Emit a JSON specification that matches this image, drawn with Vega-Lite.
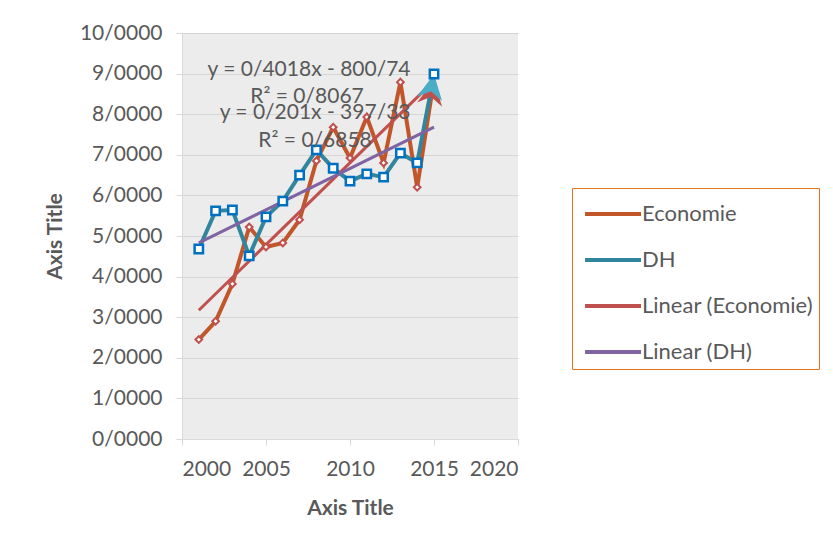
{
  "$schema": "https://vega.github.io/schema/vega-lite/v6.json",
  "width": 336,
  "height": 406,
  "autosize": {"type": "none"},
  "padding": {"left": 182, "top": 33, "right": 315, "bottom": 115},
  "background": "white",
  "config": {
    "font": "Lato",
    "view": {"fill": "#ececec", "stroke": null},
    "axis": {
      "labelFont": "Lato",
      "labelFontSize": 21,
      "labelColor": "#595959",
      "titleFont": "Lato",
      "titleFontSize": 21,
      "titleFontWeight": "bold",
      "titleColor": "#595959",
      "domainColor": "#d9d9d9",
      "tickColor": "#d9d9d9",
      "gridColor": "#d6d6d6",
      "tickSize": 6
    }
  },
  "datasets": {
    "obs": [
      {"year": 2001, "series": "Economie", "value": 2.45},
      {"year": 2002, "series": "Economie", "value": 2.9},
      {"year": 2003, "series": "Economie", "value": 3.82},
      {"year": 2004, "series": "Economie", "value": 5.22},
      {"year": 2005, "series": "Economie", "value": 4.73},
      {"year": 2006, "series": "Economie", "value": 4.83},
      {"year": 2007, "series": "Economie", "value": 5.4},
      {"year": 2008, "series": "Economie", "value": 6.85},
      {"year": 2009, "series": "Economie", "value": 7.68},
      {"year": 2010, "series": "Economie", "value": 6.92},
      {"year": 2011, "series": "Economie", "value": 7.93},
      {"year": 2012, "series": "Economie", "value": 6.8},
      {"year": 2013, "series": "Economie", "value": 8.79},
      {"year": 2014, "series": "Economie", "value": 6.2},
      {"year": 2015, "series": "Economie", "value": 8.85},
      {"year": 2001, "series": "DH", "value": 4.68},
      {"year": 2002, "series": "DH", "value": 5.62},
      {"year": 2003, "series": "DH", "value": 5.64},
      {"year": 2004, "series": "DH", "value": 4.51},
      {"year": 2005, "series": "DH", "value": 5.47},
      {"year": 2006, "series": "DH", "value": 5.86},
      {"year": 2007, "series": "DH", "value": 6.5},
      {"year": 2008, "series": "DH", "value": 7.12},
      {"year": 2009, "series": "DH", "value": 6.67},
      {"year": 2010, "series": "DH", "value": 6.35},
      {"year": 2011, "series": "DH", "value": 6.53},
      {"year": 2012, "series": "DH", "value": 6.45},
      {"year": 2013, "series": "DH", "value": 7.04},
      {"year": 2014, "series": "DH", "value": 6.8},
      {"year": 2015, "series": "DH", "value": 8.99}
    ],
    "trend": [
      {"year": 2001, "series": "Linear (Economie)", "value": 3.17},
      {"year": 2015, "series": "Linear (Economie)", "value": 8.82},
      {"year": 2001, "series": "Linear (DH)", "value": 4.83},
      {"year": 2015, "series": "Linear (DH)", "value": 7.68}
    ],
    "notes": [
      {"year": 2007.56, "value": 9.09, "label": "y = 0/4018x - 800/74"},
      {"year": 2007.44, "value": 8.42, "label": "R² = 0/8067"},
      {"year": 2007.92, "value": 8.03, "label": "y = 0/201x - 397/33"},
      {"year": 2007.92, "value": 7.34, "label": "R² = 0/6858"}
    ]
  },
  "encoding": {
    "x": {
      "field": "year",
      "type": "quantitative",
      "scale": {"domain": [2000, 2020], "nice": false, "zero": false},
      "axis": {
        "values": [2000, 2005, 2010, 2015, 2020],
        "format": "d",
        "grid": false,
        "labelPadding": 13,
        "title": "Axis Title",
        "titlePadding": 18
      }
    },
    "y": {
      "field": "value",
      "type": "quantitative",
      "scale": {"domain": [0, 10], "nice": false},
      "axis": {
        "values": [0, 1, 2, 3, 4, 5, 6, 7, 8, 9, 10],
        "labelExpr": "replace(format(datum.value, '.4f'), '.', '/')",
        "grid": true,
        "labelPadding": 14,
        "title": "Axis Title",
        "titlePadding": 14
      }
    }
  },
  "layer": [
    {
      "data": {"name": "obs"},
      "mark": {"type": "line", "strokeWidth": 4},
      "encoding": {
        "color": {
          "field": "series",
          "type": "nominal",
          "sort": null,
          "scale": {
            "domain": ["Economie", "DH", "Linear (Economie)", "Linear (DH)"],
            "range": ["#C0562A", "#31859C", "#C0504D", "#8064A2"]
          },
          "legend": {
            "orient": "none",
            "legendX": 390,
            "legendY": 155,
            "title": null,
            "symbolType": "M-0.72,0H2.39",
            "symbolSize": 1296,
            "symbolStrokeWidth": 4,
            "labelOffset": 24,
            "labelFontSize": 22,
            "labelColor": "#595959",
            "labelLimit": 400,
            "padding": 6,
            "rowPadding": 15,
            "strokeColor": "#E8731F",
            "fillColor": "white"
          }
        }
      }
    },
    {
      "data": {"name": "trend"},
      "mark": {"type": "line", "strokeWidth": 3},
      "encoding": {
        "color": {"field": "series", "type": "nominal"}
      }
    },
    {
      "data": {"name": "obs"},
      "transform": [{"filter": "datum.year === 2015"}],
      "mark": {
        "type": "point",
        "shape": "M0,0L-1.6,-0.8L-1.1,0L-1.6,0.8Z",
        "size": 1000,
        "angle": -80,
        "filled": true,
        "opacity": 1
      },
      "encoding": {
        "fill": {
          "field": "series",
          "type": "nominal",
          "scale": {"domain": ["Economie", "DH"], "range": ["#C0504D", "#4BACC6"]},
          "legend": null
        }
      }
    },
    {
      "data": {"name": "obs"},
      "transform": [{"filter": "datum.series === 'Economie' && datum.year < 2015"}],
      "mark": {
        "type": "point",
        "shape": "diamond",
        "size": 45,
        "filled": true,
        "fill": "white",
        "stroke": "#C0504D",
        "strokeWidth": 2,
        "opacity": 1
      }
    },
    {
      "data": {"name": "obs"},
      "transform": [{"filter": "datum.series === 'DH'"}],
      "mark": {
        "type": "point",
        "shape": "square",
        "size": 70,
        "filled": true,
        "fill": "white",
        "stroke": "#0070C0",
        "strokeWidth": 2.5,
        "opacity": 1
      }
    },
    {
      "data": {"name": "notes"},
      "mark": {
        "type": "text",
        "font": "Lato",
        "fontSize": 21,
        "color": "#595959",
        "align": "center",
        "baseline": "middle"
      },
      "encoding": {
        "text": {"field": "label"}
      }
    }
  ]
}
